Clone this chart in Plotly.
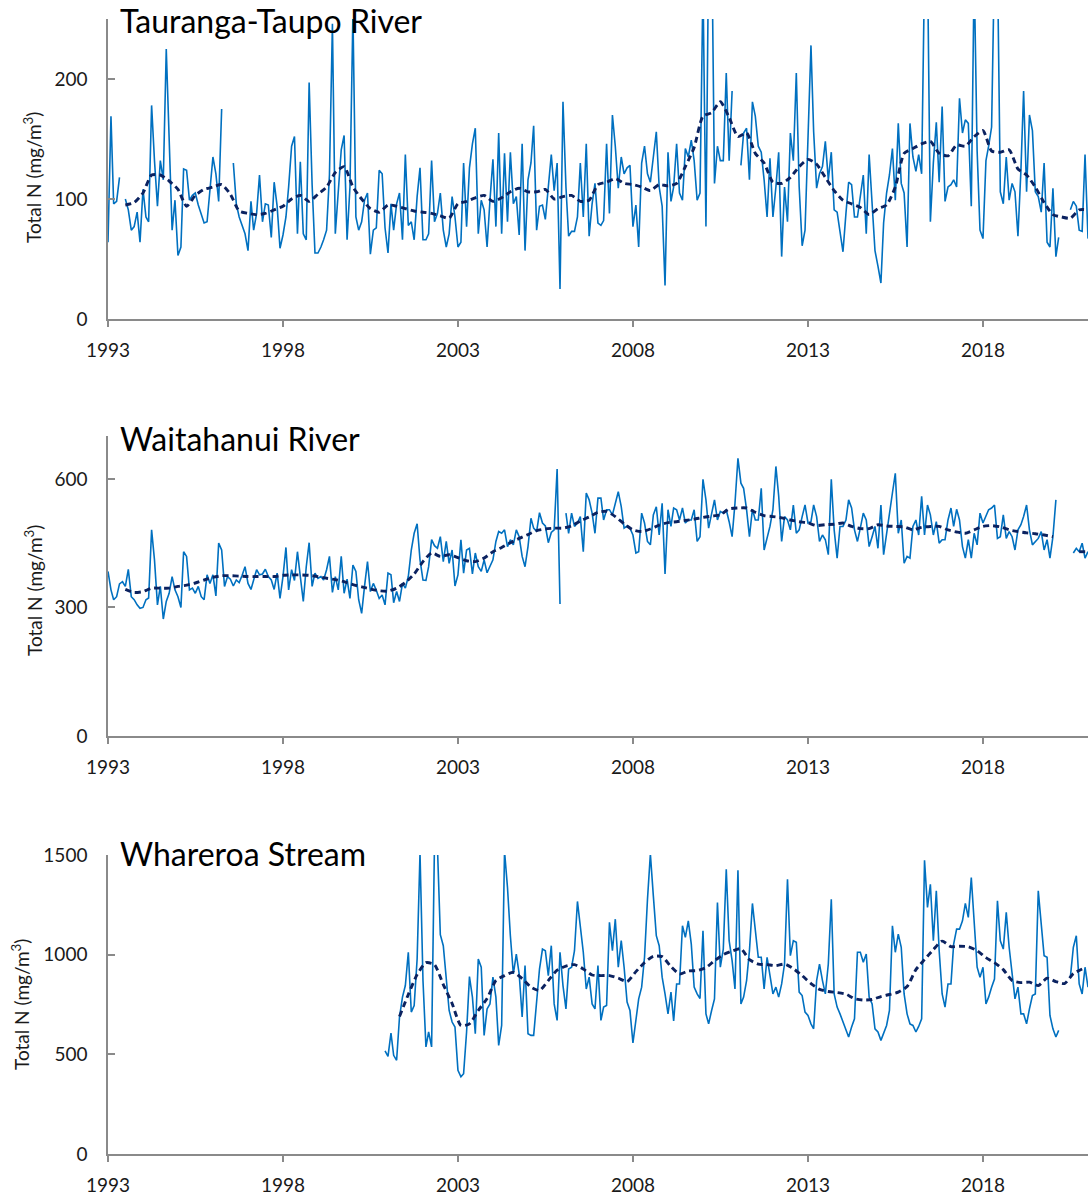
import pandas as pd
import plotly.graph_objects as go

N = None

# Monthly total nitrogen (mg/m3), January 1993 onwards
tauranga_taupo_tn = [
    64, 169, 96, 98, 118, N, 100, 91, 74, 77, 89, 64,
    108, 85, 81, 178, 132, 94, 132, 116, 225, 149, 74, 99,
    53, 60, 125, 124, 99, 103, 105, 95, 88, 80, 81, 110,
    135, 121, 98, 175, N, N, N, 130, 96, 85, 78, 71,
    57, 98, 74, 88, 120, 81, 96, 95, 68, 114, 94, 59,
    70, 85, 110, 144, 152, 71, 131, 71, 66, 197, 112, 55,
    55, 60, 66, 74, 120, 246, 71, 110, 141, 153, 66, 110,
    255, 85, 74, 81, 99, 105, 54, 74, 76, 124, 121, 76,
    55, 96, 74, 96, 105, 66, 137, 78, 81, 66, 102, 126,
    66, 66, 71, 132, 81, 88, 105, 74, 60, 71, 102, 85,
    60, 64, 130, 77, 126, 146, 159, 71, 99, 91, 60, 99,
    133, 77, 155, 71, 138, 81, 139, 96, 102, 70, 146, 57,
    116, 130, 161, 74, 94, 95, 83, 110, 137, 107, 130, 25,
    181, 110, 69, 73, 73, 85, 130, 85, 146, 69, 96, 113,
    80, 78, 82, 146, 88, 170, 144, 109, 135, 121, 126, 128,
    77, 95, 60, 130, 144, 121, 114, 135, 156, 110, 94, 28,
    139, 98, 110, 146, 105, 99, 142, 135, 149, 132, 99, 105,
    280, 77, 310, 330, 113, 144, 132, 132, 205, 132, 190, N,
    N, 128, 155, 159, 116, 181, 169, 144, 139, 116, 85, 134,
    85, 110, 139, 52, 110, 81, 155, 132, 205, 110, 61, 74,
    160, 228, 156, 109, 121, 127, 148, 116, 139, 91, 89, 71,
    56, 88, 114, 112, 85, 85, 102, 120, 71, 137, 96, 57,
    44, 30, 80, 105, 120, 142, 99, 163, 113, 105, 60, 163,
    135, 123, 137, 121, 290, 300, 81, 130, 164, 114, 177, 98,
    110, 112, 116, 110, 184, 155, 166, 163, 94, 290, 140, 74,
    67, 132, 144, 160, 300, 300, 106, 96, 135, 99, 113, 106,
    69, 124, 190, 106, 170, 157, 106, 102, 89, 130, 64, 60,
    109, 52, 68, N, N, N, 91, 98, 94, 74, 73, 137,
    67,
]

# Smoothed trend, every third month from July 1993
tauranga_taupo_trend = [
    95, 97, 105, 120, 120, 115, 108, 94, 103, 108,
    110, 112, 104, 90, 88, 87, 88, 91, 94, 100,
    103, 98, 104, 110, 122, 127, 110, 100, 92, 89,
    95, 94, 92, 90, 89, 88, 86, 84, 96, 98,
    101, 103, 98, 101, 106, 109, 106, 106, 108, 100,
    102, 103, 98, 99, 112, 114, 117, 113, 112, 110,
    107, 112, 111, 113, 127, 143, 169, 172, 181, 168,
    152, 155, 138, 130, 114, 113, 118, 127, 133, 129,
    118, 107, 99, 96, 93, 87, 92, 95, 110, 138,
    142, 146, 148, 138, 136, 145, 144, 152, 157, 140,
    139, 141, 125, 120, 110, 97, 87, 85, 84, 91,
    91,
]

waitahanui_tn = [
    384, 341, 318, 325, 355, 360, 349, 389, 325, 318, 306, 298,
    300, 318, 322, 481, 411, 306, 349, 273, 314, 333, 372, 341,
    325, 300, 430, 419, 341, 345, 333, 349, 325, 318, 376, 356,
    376, 327, 450, 434, 349, 372, 366, 350, 364, 358, 375, 395,
    356, 342, 364, 388, 376, 378, 389, 372, 364, 342, 380, 321,
    372, 440, 341, 388, 363, 430, 372, 314, 395, 451, 349, 380,
    368, 372, 364, 388, 419, 335, 372, 341, 419, 333, 366, 321,
    399, 384, 318, 286, 349, 407, 337, 356, 340, 321, 329, 306,
    380, 376, 311, 337, 314, 356, 345, 372, 434, 473, 495, 411,
    364, 363, 395, 458, 444, 438, 465, 407, 454, 403, 434, 350,
    376, 458, 380, 434, 438, 378, 427, 395, 384, 411, 381, 395,
    411, 454, 477, 473, 481, 442, 458, 446, 481, 465, 419, 395,
    442, 508, 485, 477, 521, 497, 490, 451, 475, 481, 623, 308,
    N, 520, 473, 520, 489, 497, 512, 430, 567, 551, 520, 473,
    555, 555, 504, 528, 528, 516, 543, 570, 535, 485, 490, 485,
    469, 427, 430, 520, 497, 454, 446, 516, 535, 469, 543, 378,
    528, 489, 532, 528, 504, 532, 497, 504, 504, 528, 454, 465,
    599, 551, 485, 520, 551, 504, 524, 520, 528, 500, 465, 543,
    648, 590, 578, 528, 465, 529, 504, 504, 578, 434, 460, 489,
    528, 629, 560, 454, 512, 504, 481, 539, 473, 481, 512, 539,
    497, 500, 539, 512, 454, 469, 458, 423, 599, 481, 415, 489,
    489, 504, 551, 532, 481, 454, 485, 520, 504, 442, 465, 489,
    438, 539, 423, 473, 528, 567, 613, 473, 504, 403, 419, 415,
    489, 504, 469, 559, 469, 539, 516, 469, 500, 450, 458, 458,
    504, 532, 489, 529, 504, 442, 415, 458, 415, 473, 446, 520,
    497, 512, 528, 532, 539, 461, 465, 516, 461, 477, 465, 434,
    481, 493, 512, 539, 481, 446, 454, 461, 477, 434, 458, 415,
    465, 551, N, N, N, N, N, 427, 438, 430, 450, 415,
    430,
]

waitahanui_trend = [
    342, 335, 337, 345, 345, 345, 349, 352, 357, 364,
    370, 374, 374, 373, 372, 372, 372, 372, 375, 376,
    376, 375, 372, 368, 365, 360, 353, 348, 343, 339,
    338, 345, 358, 378, 407, 427, 419, 423, 416, 409,
    407, 415, 430, 440, 451, 461, 470, 479, 483, 485,
    485, 490, 502, 511, 522, 524, 512, 495, 481, 477,
    483, 492, 498, 500, 503, 506, 510, 513, 516, 530,
    532, 532, 522, 514, 512, 509, 504, 500, 497, 491,
    493, 494, 497, 489, 484, 484, 493, 490, 489, 488,
    481, 487, 489, 489, 481, 476, 473, 481, 489, 491,
    488, 481, 477, 474, 472, 469, 465, N, N, 430,
    430,
]

# Whareroa Stream record begins December 2000
whareroa_tn = [
    517,
    490, 607, 495, 470, 687, 787, 845, 1012, 712, 745, 978, 1510,
    870, 537, 612, 537, 1560, 1540, 1100, 1045, 878, 720, 662, 637,
    420, 387, 403, 612, 890, 787, 603, 978, 937, 595, 728, 753,
    887, 787, 545, 645, 1520, 1337, 1095, 903, 1003, 903, 687, 945,
    603, 595, 595, 753, 928, 1028, 1020, 895, 1045, 753, 670, 1012,
    845, 728, 928, 937, 1020, 1267, 1153, 1012, 828, 887, 753, 728,
    945, 670, 737, 745, 1162, 1020, 1178, 937, 1070, 937, 762, 720,
    557, 670, 778, 837, 987, 1278, 1505, 1295, 1095, 1045, 887, 803,
    703, 812, 667, 853, 853, 1145, 1087, 1170, 1053, 837, 803, 780,
    1120, 703, 653, 720, 778, 1262, 937, 1028, 1428, 1070, 970, 828,
    1423, 753, 787, 870, 1020, 1257, 1137, 987, 987, 828, 987, 903,
    803, 837, 787, 853, 953, 1378, 995, 1070, 1062, 812, 795, 712,
    695, 653, 628, 870, 953, 870, 803, 953, 1278, 803, 737, 703,
    662, 620, 587, 637, 678, 1012, 1012, 962, 1003, 787, 753, 628,
    612, 570, 603, 645, 720, 1145, 1012, 1103, 1037, 803, 703, 653,
    645, 612, 640, 678, 1473, 1237, 1353, 1070, 1320, 1020, 803, 737,
    853, 853, 1053, 1128, 1128, 1170, 1257, 1187, 1387, 1153, 937, 887,
    937, 753, 787, 837, 878, 1270, 1070, 1028, 1212, 1037, 903, 778,
    837, 703, 703, 653, 728, 795, 803, 1320, 1153, 995, 987, 695,
    628, 587, 620, N, N, N, 887, 1037, 1095, 853, 803, 937,
    837,
]

# Smoothed trend, every third month from May 2001
whareroa_trend = [
    690, 800, 900, 960, 950, 850, 755, 645, 653, 720,
    780, 870, 895, 912, 880, 837, 820, 870, 922, 943,
    950, 928, 898, 895, 895, 882, 865, 915, 960, 992,
    990, 940, 903, 918, 920, 935, 970, 1000, 1018, 1030,
    975, 953, 950, 945, 953, 930, 895, 855, 826, 815,
    810, 802, 779, 772, 775, 790, 800, 812, 840, 925,
    975, 1025, 1068, 1040, 1042, 1040, 1020, 985, 960, 925,
    870, 860, 862, 845, 882, 865, 855, 905, 928,
]

year_ticks = [1993, 1998, 2003, 2008, 2013, 2018]

panels = [
    dict(name="Tauranga-Taupo River", values=tauranga_taupo_tn, start="1993-01-01",
         trend=tauranga_taupo_trend, trend_start="1993-07-01",
         yrange=[0, 250], yticks=[0, 100, 200], top=19, bottom=319,
         ytitle_x=33, ytitle_y=178, title_y=21),
    dict(name="Waitahanui River", values=waitahanui_tn, start="1993-01-01",
         trend=waitahanui_trend, trend_start="1993-07-01",
         yrange=[0, 700], yticks=[0, 300, 600], top=436, bottom=736,
         ytitle_x=33, ytitle_y=591, title_y=438),
    dict(name="Whareroa Stream", values=whareroa_tn, start="2000-12-01",
         trend=whareroa_trend, trend_start="2001-05-01",
         yrange=[0, 1500], yticks=[0, 500, 1000, 1500], top=855, bottom=1154,
         ytitle_x=20, ytitle_y=1005, title_y=853),
]

W, H = 1092, 1202
LEFT, RIGHT = 108, 1088
FONT = "Lato"
AXIS_GREY = "#8a8a8a"
TEXT = "#1a1a1a"

fig = go.Figure()
annotations = []
layout_axes = {}

for i, p in enumerate(panels, start=1):
    sfx = "" if i == 1 else str(i)
    xref, yref = f"x{sfx}", f"y{sfx}"

    dates = pd.date_range(p["start"], periods=len(p["values"]), freq="MS")
    fig.add_trace(go.Scatter(
        x=dates, y=p["values"], mode="lines", xaxis=xref, yaxis=yref,
        line=dict(color="#0070C0", width=1.6), connectgaps=False,
        showlegend=False, hoverinfo="skip"))

    tdates = pd.date_range(p["trend_start"], periods=len(p["trend"]), freq="3MS")
    fig.add_trace(go.Scatter(
        x=tdates, y=p["trend"], mode="lines", xaxis=xref, yaxis=yref,
        line=dict(color="#0B2260", width=2.9, dash="6px,4px", shape="spline",
                  smoothing=0.6),
        connectgaps=False, showlegend=False, hoverinfo="skip"))

    ydom = [1 - p["bottom"] / H, 1 - p["top"] / H]
    layout_axes[f"xaxis{sfx}"] = dict(
        domain=[LEFT / W, RIGHT / W], anchor=yref, type="date",
        range=["1993-01-01", "2021-01-01"], automargin=False,
        tickvals=[f"{y}-01-01" for y in year_ticks],
        ticktext=[str(y) for y in year_ticks],
        ticks="outside", ticklen=6, tickwidth=1.5, tickcolor=AXIS_GREY,
        showline=True, linecolor=AXIS_GREY, linewidth=1.5,
        showgrid=False, zeroline=False, ticklabelstandoff=7,
        tickfont=dict(family=FONT, size=19, color=TEXT),
    )
    layout_axes[f"yaxis{sfx}"] = dict(
        domain=ydom, anchor=xref, range=p["yrange"], tickvals=p["yticks"],
        automargin=False,
        ticks="inside", ticklen=7, tickwidth=1.5, tickcolor=AXIS_GREY,
        showline=True, linecolor=AXIS_GREY, linewidth=1.5,
        showgrid=False, zeroline=False, ticklabelstandoff=15,
        tickfont=dict(family=FONT, size=19, color=TEXT),
    )

    annotations.append(dict(
        text=p["name"], xref="paper", yref="paper",
        x=118 / W, y=1 - p["title_y"] / H, xanchor="left", yanchor="middle",
        showarrow=False, font=dict(family=FONT, size=32, color="#000000")))
    annotations.append(dict(
        text="Total N (mg/m<sup>3</sup>)", xref="paper", yref="paper",
        x=p["ytitle_x"] / W, y=1 - p["ytitle_y"] / H, textangle=-90,
        xanchor="center", yanchor="middle", showarrow=False,
        font=dict(family=FONT, size=19, color=TEXT)))

fig.update_layout(
    width=W, height=H, margin=dict(l=0, r=0, t=0, b=0, autoexpand=False),
    paper_bgcolor="white", plot_bgcolor="white",
    annotations=annotations, **layout_axes,
)

fig.write_html("out.html")
